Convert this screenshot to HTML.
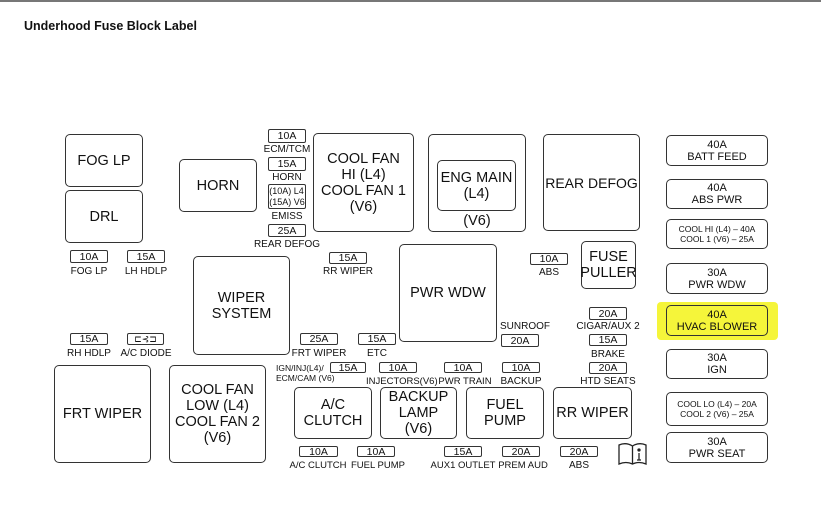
<!DOCTYPE html>
<html><head><meta charset="utf-8"><style>
*{margin:0;padding:0;box-sizing:border-box}
body{width:821px;height:515px;background:#fff;position:relative;overflow:hidden;font-family:"Liberation Sans",Arial,sans-serif;color:#111}
.b{position:absolute;border:1.5px solid #333;border-radius:5px;display:flex;align-items:center;justify-content:center;text-align:center;font-size:14.5px;line-height:16px;background:#fff;white-space:nowrap}
.f{position:absolute;border:1.3px solid #333;border-radius:2px;display:flex;align-items:center;justify-content:center;font-size:10.5px;line-height:10px;background:#fff}
.t{position:absolute;font-size:10px;line-height:11px;white-space:nowrap;text-align:center}
.r{position:absolute;border:1.5px solid #333;border-radius:5px;text-align:center;font-size:11px;line-height:12px;display:flex;flex-direction:column;justify-content:center;left:666px;width:102px;background:#fff}
</style></head><body>
<div style="position:absolute;left:0;top:0;width:821px;height:2px;background:#777"></div>
<div style="position:absolute;left:24px;top:19px;font-size:12.5px;font-weight:bold">Underhood Fuse Block Label</div>

<div class="b" style="left:65px;top:134px;width:78px;height:53px">FOG LP</div>
<div class="b" style="left:65px;top:190px;width:78px;height:53px">DRL</div>
<div class="b" style="left:179px;top:159px;width:78px;height:53px">HORN</div>

<div class="f" style="left:268px;top:129px;width:38px;height:14px">10A</div>
<div class="t" style="left:257px;top:144px;width:60px">ECM/TCM</div>
<div class="f" style="left:268px;top:157px;width:38px;height:14px">15A</div>
<div class="t" style="left:257px;top:172px;width:60px">HORN</div>
<div class="f" style="left:268px;top:184px;width:38px;height:25px;font-size:9px;line-height:11px;flex-direction:column">(10A) L4<br>(15A) V6</div>
<div class="t" style="left:257px;top:211px;width:60px">EMISS</div>
<div class="f" style="left:268px;top:224px;width:38px;height:13px">25A</div>
<div class="t" style="left:247px;top:239px;width:80px">REAR DEFOG</div>

<div class="b" style="left:313px;top:133px;width:101px;height:99px">COOL FAN<br>HI (L4)<br>COOL FAN 1<br>(V6)</div>
<div class="b" style="left:428px;top:134px;width:98px;height:98px;align-items:flex-end;padding-bottom:2px">(V6)</div>
<div class="b" style="left:437px;top:160px;width:79px;height:51px">ENG MAIN<br>(L4)</div>
<div class="b" style="left:543px;top:134px;width:97px;height:97px;font-size:14px">REAR DEFOG</div>

<div class="r" style="top:135px;height:31px">40A<br>BATT FEED</div>
<div class="r" style="top:179px;height:30px">40A<br>ABS PWR</div>
<div class="r" style="top:219px;height:30px;font-size:8.5px;line-height:10px">COOL HI (L4) – 40A<br>COOL 1 (V6) – 25A</div>
<div class="r" style="top:263px;height:31px">30A<br>PWR WDW</div>
<div style="position:absolute;left:657px;top:302px;width:121px;height:38px;background:#f5f53a;border-radius:4px"></div>
<div class="r" style="top:305px;height:31px;background:#f5f53a">40A<br>HVAC BLOWER</div>
<div class="r" style="top:349px;height:30px">30A<br>IGN</div>
<div class="r" style="top:392px;height:34px;font-size:8.5px;line-height:10px">COOL LO (L4) – 20A<br>COOL 2 (V6) – 25A</div>
<div class="r" style="top:432px;height:31px">30A<br>PWR SEAT</div>

<div class="f" style="left:70px;top:250px;width:38px;height:13px">10A</div>
<div class="t" style="left:59px;top:266px;width:60px">FOG LP</div>
<div class="f" style="left:127px;top:250px;width:38px;height:13px">15A</div>
<div class="t" style="left:116px;top:266px;width:60px">LH HDLP</div>
<div class="f" style="left:329px;top:252px;width:38px;height:12px">15A</div>
<div class="t" style="left:318px;top:266px;width:60px">RR WIPER</div>

<div class="b" style="left:193px;top:256px;width:97px;height:99px">WIPER<br>SYSTEM</div>
<div class="b" style="left:399px;top:244px;width:98px;height:98px">PWR WDW</div>

<div class="f" style="left:530px;top:253px;width:38px;height:12px">10A</div>
<div class="t" style="left:519px;top:267px;width:60px">ABS</div>
<div class="b" style="left:581px;top:241px;width:55px;height:48px">FUSE<br>PULLER</div>

<div class="t" style="left:495px;top:321px;width:60px">SUNROOF</div>
<div class="f" style="left:501px;top:334px;width:38px;height:13px">20A</div>
<div class="f" style="left:589px;top:307px;width:38px;height:13px">20A</div>
<div class="t" style="left:568px;top:321px;width:80px">CIGAR/AUX 2</div>
<div class="f" style="left:589px;top:334px;width:38px;height:12px">15A</div>
<div class="t" style="left:578px;top:349px;width:60px">BRAKE</div>
<div class="f" style="left:589px;top:362px;width:38px;height:12px">20A</div>
<div class="t" style="left:568px;top:376px;width:80px">HTD SEATS</div>

<div class="f" style="left:70px;top:333px;width:38px;height:12px">15A</div>
<div class="t" style="left:59px;top:348px;width:60px">RH HDLP</div>
<div class="f" style="left:127px;top:333px;width:37px;height:12px;font-size:9px">⊏⊰⊐</div>
<div class="t" style="left:111px;top:348px;width:70px">A/C DIODE</div>
<div class="f" style="left:300px;top:333px;width:38px;height:12px">25A</div>
<div class="t" style="left:289px;top:348px;width:60px">FRT WIPER</div>
<div class="f" style="left:358px;top:333px;width:38px;height:12px">15A</div>
<div class="t" style="left:347px;top:348px;width:60px">ETC</div>

<div class="b" style="left:54px;top:365px;width:97px;height:98px">FRT WIPER</div>
<div class="b" style="left:169px;top:365px;width:97px;height:98px">COOL FAN<br>LOW (L4)<br>COOL FAN 2<br>(V6)</div>

<div class="t" style="left:276px;top:363px;font-size:8.5px;line-height:10px;text-align:left">IGN/INJ(L4)/<br>ECM/CAM (V6)</div>
<div class="f" style="left:330px;top:362px;width:36px;height:11px">15A</div>
<div class="f" style="left:379px;top:362px;width:38px;height:11px">10A</div>
<div class="t" style="left:366px;top:376px;font-size:9.5px">INJECTORS(V6)</div>
<div class="f" style="left:444px;top:362px;width:38px;height:11px">10A</div>
<div class="t" style="left:437px;top:376px;width:56px;font-size:9.5px">PWR TRAIN</div>
<div class="f" style="left:502px;top:362px;width:38px;height:11px">10A</div>
<div class="t" style="left:491px;top:376px;width:60px">BACKUP</div>

<div class="b" style="left:294px;top:387px;width:78px;height:52px">A/C<br>CLUTCH</div>
<div class="b" style="left:380px;top:387px;width:77px;height:52px">BACKUP<br>LAMP<br>(V6)</div>
<div class="b" style="left:466px;top:387px;width:78px;height:52px">FUEL<br>PUMP</div>
<div class="b" style="left:553px;top:387px;width:79px;height:52px">RR WIPER</div>

<div class="f" style="left:299px;top:446px;width:39px;height:11px">10A</div>
<div class="t" style="left:283px;top:460px;width:70px;font-size:9.5px">A/C CLUTCH</div>
<div class="f" style="left:357px;top:446px;width:38px;height:11px">10A</div>
<div class="t" style="left:348px;top:460px;width:60px;font-size:9.5px">FUEL PUMP</div>
<div class="f" style="left:444px;top:446px;width:38px;height:11px">15A</div>
<div class="t" style="left:423px;top:460px;width:80px;font-size:9.5px">AUX1 OUTLET</div>
<div class="f" style="left:502px;top:446px;width:38px;height:11px">20A</div>
<div class="t" style="left:488px;top:460px;width:70px;font-size:9.5px">PREM AUD</div>
<div class="f" style="left:560px;top:446px;width:38px;height:11px">20A</div>
<div class="t" style="left:549px;top:460px;width:60px">ABS</div>
<svg style="position:absolute;left:617px;top:442px" width="31" height="25" viewBox="0 0 31 25" fill="none" stroke="#222" stroke-width="1.3">
<path d="M2 3 L2 22 Q9 19 15.5 22 Q22 19 29 22 L29 3 Q22 0 15.5 4 Q9 0 2 3Z"/><path d="M15.5 4 L15.5 22"/><circle cx="22" cy="8" r="1" fill="#222"/><path d="M22 11 L22 18 M20 18 L24 18"/></svg>
</body></html>
